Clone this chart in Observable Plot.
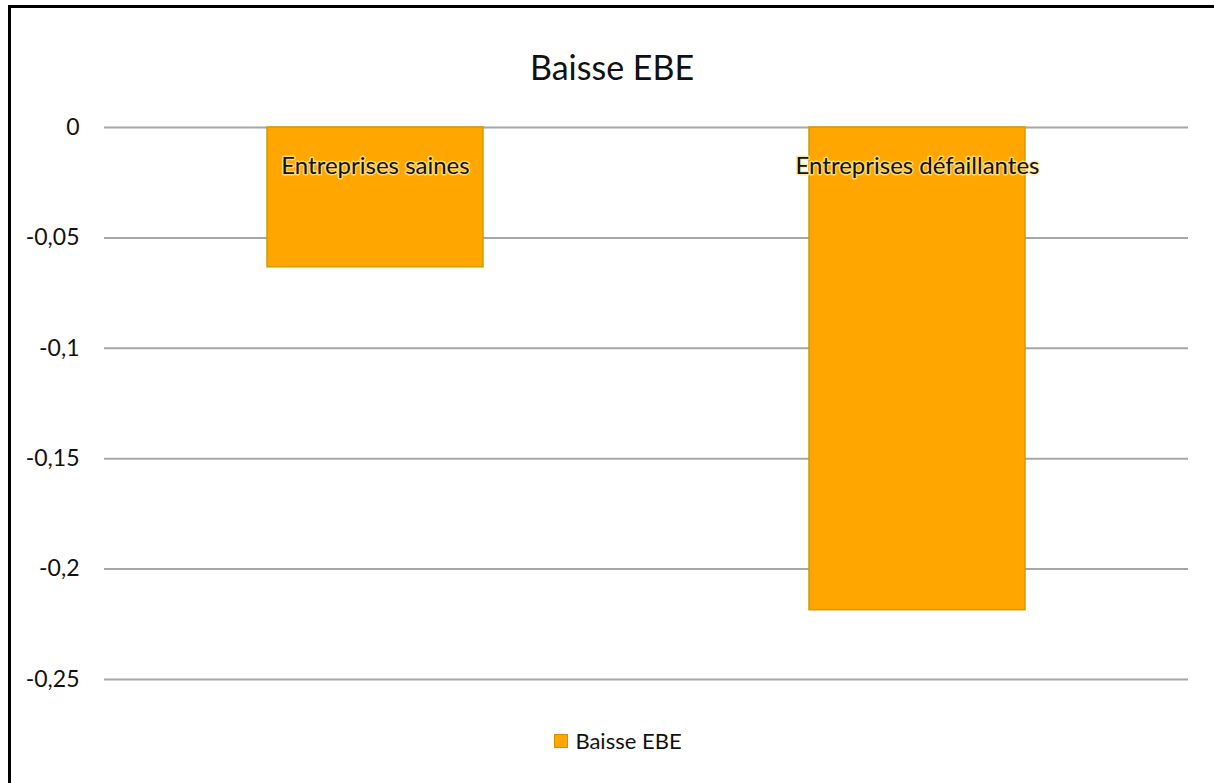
<!DOCTYPE html>
<html>
<head>
<meta charset="utf-8">
<script src="https://cdn.jsdelivr.net/npm/d3@7"></script>
<script src="https://cdn.jsdelivr.net/npm/@observablehq/plot@0.6"></script>
<style>
  html, body { margin: 0; padding: 0; background: #fff; }
  #wrap { position: relative; width: 1214px; height: 783px; overflow: hidden; font-family: Lato, "Open Sans", sans-serif; }
  #frame { position: absolute; left: 8px; top: 5px; width: 1300px; height: 900px; border-left: 3px solid #000; border-top: 3px solid #000; box-sizing: border-box; }
  #title { position: absolute; left: 0; width: 1224px; top: 44px; text-align: center; font-size: 34px; color: #111; line-height: 46px; }
  #chart { position: absolute; left: 0; top: 0; }
  #legend { position: absolute; left: 11px; width: 1214px; top: 727px; display: flex; justify-content: center; align-items: center; font-size: 22px; color: #111; line-height: 28px; }
  #legend .sw { width: 14px; height: 14px; background: #FFA600; border: 1px solid #c99400; box-sizing: border-box; margin-right: 7px; }
</style>
</head>
<body>
<div id="wrap">
  <div id="frame"></div>
  <div id="chart"></div>
  <div id="title"></div>
  <div id="legend"></div>
</div>
<script>
const titleText = "Baisse EBE";
const seriesName = "Baisse EBE";
const categories = ["Entreprises saines", "Entreprises défaillantes"];
const values = [-0.0633, -0.2186];
const yTicks = [0, -0.05, -0.1, -0.15, -0.2, -0.25];

const data = categories.map((c, i) => ({category: c, value: values[i]}));
const fmt = d => d === 0 ? "0" : String(d).replace(".", ",");

document.getElementById("title").textContent = titleText;
document.getElementById("legend").innerHTML = `<span class="sw"></span><span></span>`;
document.getElementById("legend").lastChild.textContent = seriesName;

const chart = Plot.plot({
  width: 1214,
  height: 700,
  marginTop: 127,
  marginBottom: 21,
  marginLeft: 104,
  marginRight: 26,
  style: {fontFamily: "Lato, 'Open Sans', sans-serif", fontSize: "23px", color: "#111", background: "transparent"},
  x: {domain: categories, paddingInner: 0.6015, paddingOuter: 0.30075, axis: null},
  y: {domain: [-0.25, 0], ticks: yTicks, tickFormat: fmt, label: null},
  marks: [
    Plot.ruleY(yTicks, {stroke: "#a6a6a6", strokeWidth: 2}),
    Plot.axisY({ticks: yTicks, tickFormat: fmt, tickSize: 0, tickPadding: 25, fontSize: 23, label: null}),
    Plot.barY(data, {x: "category", y: "value", fill: "#FFA600", stroke: "#cf9c00", strokeWidth: 1.5}),
    Plot.text(data, {x: "category", y: () => 0, text: "category", dy: 39, fontSize: 24, fill: "#111",
      stroke: "rgba(255,230,140,0.8)", strokeWidth: 3})
  ]
});
document.getElementById("chart").appendChild(chart);
</script>
</body>
</html>
